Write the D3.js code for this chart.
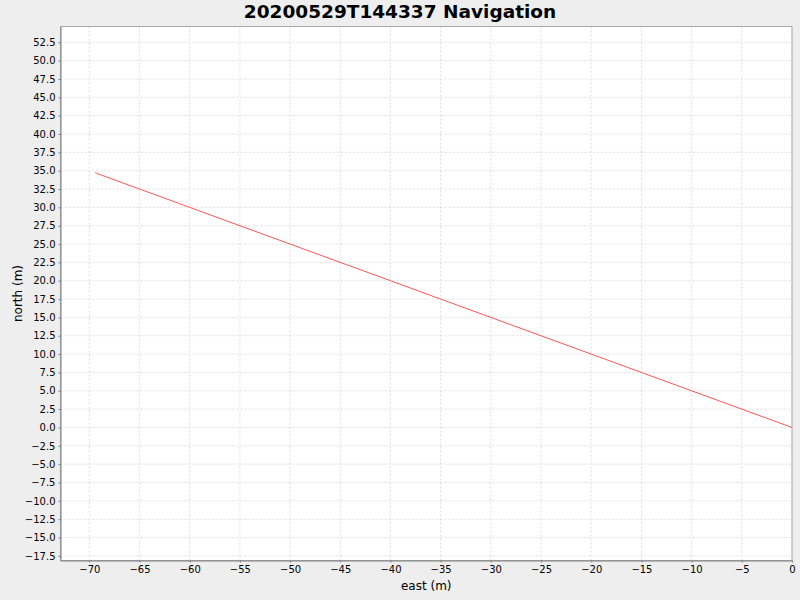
<!DOCTYPE html>
<html>
<head>
<meta charset="utf-8">
<script src="https://cdn.jsdelivr.net/npm/d3@7"></script>
<style>
  body { margin: 0; background: #eeeeee; }
  svg { display: block; }
</style>
</head>
<body>
<div id="chart"></div>
<script>
// Track data (metres)
let eastValues = [-69.4, -69.3, -60, -50, -40, -30, -20, -10, 0];
let northValues = [34.8, 34.65, 30.0, 25.0, 20.0, 15.0, 10.0, 5.0, 0.0];
let xTickValues = [-70, -65, -60, -55, -50, -45, -40, -35, -30, -25, -20, -15, -10, -5, 0];
let yTickValues = [-17.5, -15, -12.5, -10, -7.5, -5, -2.5, 0, 2.5, 5, 7.5, 10, 12.5, 15,
  17.5, 20, 22.5, 25, 27.5, 30, 32.5, 35, 37.5, 40, 42.5, 45, 47.5, 50, 52.5];
let chartTitle = "20200529T144337 Navigation";
let xLabel = "east (m)";
let yLabel = "north (m)";

let svgWidth = 800;
let svgHeight = 600;

let margin = { top: 26.5, right: 8, bottom: 39.5, left: 60.5 };
let chartWidth = svgWidth - margin.left - margin.right;
let chartHeight = svgHeight - margin.top - margin.bottom;

let svg = d3.select("#chart")
  .append("svg")
  .attr("width", svgWidth)
  .attr("height", svgHeight)
  .style("font-family", "'DejaVu Sans', sans-serif");

svg.append("rect")
  .attr("width", svgWidth)
  .attr("height", svgHeight)
  .attr("fill", "#eeeeee");

let chartGroup = svg.append("g")
  .attr("transform", `translate(${margin.left}, ${margin.top})`);

let xScale = d3.scaleLinear()
  .domain([-72.87, 0])
  .range([0, chartWidth]);

let yScale = d3.scaleLinear()
  .domain([-18.13, 54.65])
  .range([chartHeight, 0]);

// White plot background
chartGroup.append("rect")
  .attr("width", chartWidth)
  .attr("height", chartHeight)
  .attr("fill", "#ffffff");

// Gridlines
chartGroup.append("g")
  .selectAll("line")
  .data(xTickValues)
  .join("line")
  .attr("x1", d => xScale(d))
  .attr("x2", d => xScale(d))
  .attr("y1", 0)
  .attr("y2", chartHeight)
  .attr("stroke", "#dddddd")
  .attr("stroke-width", 1)
  .attr("stroke-dasharray", "2,2");

chartGroup.append("g")
  .selectAll("line")
  .data(yTickValues)
  .join("line")
  .attr("x1", 0)
  .attr("x2", chartWidth)
  .attr("y1", d => yScale(d))
  .attr("y2", d => yScale(d))
  .attr("stroke", "#dddddd")
  .attr("stroke-width", 1)
  .attr("stroke-dasharray", "2,2");

// Plot outline
chartGroup.append("rect")
  .attr("width", chartWidth)
  .attr("height", chartHeight)
  .attr("fill", "none")
  .attr("stroke", "#aaaaaa")
  .attr("stroke-width", 1);

// Track line
let track = eastValues.map((e, i) => [e, northValues[i]]);
let line = d3.line()
  .x(d => xScale(d[0]))
  .y(d => yScale(d[1]));

chartGroup.append("path")
  .datum(track)
  .attr("d", line)
  .attr("fill", "none")
  .attr("stroke", "#ff5555")
  .attr("stroke-width", 1);

// Axes
let bottomAxis = d3.axisBottom(xScale)
  .tickValues(xTickValues)
  .tickFormat(d3.format("d"))
  .tickSizeInner(2)
  .tickSizeOuter(0)
  .tickPadding(3);

let leftAxis = d3.axisLeft(yScale)
  .tickValues(yTickValues)
  .tickFormat(d3.format(".1f"))
  .tickSizeInner(2)
  .tickSizeOuter(0)
  .tickPadding(3);

let xAxis = chartGroup.append("g")
  .attr("transform", `translate(0, ${chartHeight})`)
  .call(bottomAxis);

let yAxis = chartGroup.append("g")
  .call(leftAxis);

[xAxis, yAxis].forEach(ax => {
  ax.select(".domain").attr("stroke", "#808080");
  ax.selectAll(".tick line").attr("stroke", "#808080");
  ax.selectAll(".tick text")
    .attr("fill", "#000000")
    .style("font-family", "'DejaVu Sans', sans-serif")
    .style("font-size", "10px");
});

// Title and axis labels
svg.append("text")
  .attr("x", svgWidth / 2)
  .attr("y", 18)
  .attr("text-anchor", "middle")
  .attr("font-size", "18.5px")
  .attr("font-weight", "bold")
  .attr("fill", "#000000")
  .text(chartTitle);

svg.append("text")
  .attr("x", margin.left + chartWidth / 2)
  .attr("y", 590)
  .attr("text-anchor", "middle")
  .attr("font-size", "12px")
  .attr("fill", "#000000")
  .text(xLabel);

svg.append("text")
  .attr("transform", `translate(22, ${margin.top + chartHeight / 2}) rotate(-90)`)
  .attr("text-anchor", "middle")
  .attr("font-size", "12px")
  .attr("fill", "#000000")
  .text(yLabel);
</script>
</body>
</html>
